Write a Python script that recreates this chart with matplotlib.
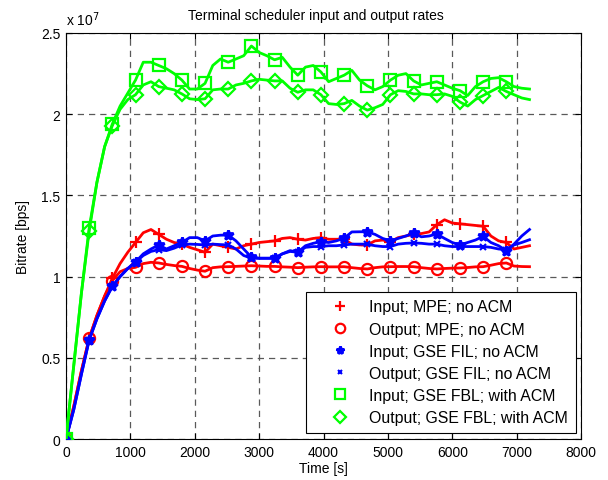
import numpy as np
import matplotlib
matplotlib.use("Agg")
import matplotlib.pyplot as plt
from matplotlib.lines import Line2D
from matplotlib.ticker import FormatStrFormatter

plt.rcParams['font.family'] = ['Liberation Sans', 'DejaVu Sans']

# time samples [s]
time_s = [0, 120, 240, 360, 480, 600, 720, 840, 960, 1080, 1200, 1320, 1440, 1560, 1680,
          1800, 1920, 2040, 2160, 2280, 2400, 2520, 2640, 2760, 2880, 3000, 3120, 3240,
          3360, 3480, 3600, 3720, 3840, 3960, 4080, 4200, 4320, 4440, 4560, 4680, 4800,
          4920, 5040, 5160, 5280, 5400, 5520, 5640, 5760, 5880, 6000, 6120, 6240, 6360,
          6480, 6600, 6720, 6840, 6960, 7080, 7200]

# bitrates in units of 1e7 bps
in_mpe = [0, 0.2, 0.42, 0.62, 0.76, 0.88, 0.99, 1.08, 1.15, 1.21, 1.27, 1.29, 1.26, 1.23, 1.21,
          1.20, 1.18, 1.165, 1.15, 1.20, 1.19, 1.18, 1.17, 1.19, 1.20, 1.21, 1.215, 1.22,
          1.235, 1.24, 1.23, 1.225, 1.235, 1.24, 1.23, 1.23, 1.23, 1.20, 1.195, 1.195, 1.22,
          1.225, 1.215, 1.24, 1.25, 1.26, 1.265, 1.275, 1.32, 1.35, 1.33, 1.325, 1.32, 1.315,
          1.31, 1.25, 1.22, 1.21, 1.17, 1.18, 1.19]
out_mpe = [0, 0.2, 0.42, 0.62, 0.76, 0.88, 0.975, 1.03, 1.05, 1.057, 1.08, 1.088, 1.084, 1.075, 1.068,
           1.063, 1.05, 1.04, 1.033, 1.055, 1.06, 1.061, 1.063, 1.065, 1.067, 1.065, 1.063, 1.063,
           1.06, 1.058, 1.055, 1.058, 1.06, 1.061, 1.06, 1.06, 1.061, 1.055, 1.05, 1.047, 1.055,
           1.06, 1.061, 1.062, 1.062, 1.061, 1.055, 1.05, 1.047, 1.05, 1.052, 1.053, 1.056, 1.06,
           1.061, 1.07, 1.08, 1.084, 1.065, 1.062, 1.061]
in_fil = [0, 0.18, 0.40, 0.61, 0.74, 0.85, 0.94, 1.00, 1.05, 1.09, 1.14, 1.17, 1.195, 1.17, 1.19,
          1.21, 1.24, 1.24, 1.22, 1.25, 1.255, 1.256, 1.22, 1.17, 1.12, 1.113, 1.113, 1.113,
          1.14, 1.16, 1.15, 1.19, 1.205, 1.215, 1.21, 1.22, 1.236, 1.275, 1.276, 1.276, 1.26,
          1.235, 1.22, 1.235, 1.25, 1.268, 1.245, 1.25, 1.262, 1.235, 1.21, 1.195, 1.21, 1.225,
          1.248, 1.21, 1.19, 1.16, 1.20, 1.25, 1.29]
out_fil = [0, 0.18, 0.40, 0.61, 0.74, 0.85, 0.94, 1.00, 1.05, 1.088, 1.13, 1.155, 1.166, 1.16, 1.175,
           1.195, 1.20, 1.198, 1.195, 1.20, 1.197, 1.195, 1.17, 1.13, 1.113, 1.113, 1.113, 1.113,
           1.14, 1.155, 1.15, 1.18, 1.185, 1.185, 1.19, 1.19, 1.195, 1.20, 1.20, 1.20, 1.19,
           1.185, 1.185, 1.20, 1.205, 1.207, 1.205, 1.20, 1.20, 1.19, 1.185, 1.185, 1.185, 1.185,
           1.185, 1.18, 1.17, 1.166, 1.195, 1.21, 1.227]
in_fbl = [0, 0.45, 0.9, 1.30, 1.58, 1.80, 1.94, 2.05, 2.13, 2.21, 2.32, 2.32, 2.30, 2.28, 2.25,
          2.21, 2.155, 2.155, 2.19, 2.30, 2.34, 2.32, 2.34, 2.36, 2.42, 2.38, 2.36, 2.335,
          2.35, 2.29, 2.24, 2.29, 2.30, 2.26, 2.20, 2.22, 2.24, 2.27, 2.21, 2.175, 2.15,
          2.17, 2.21, 2.24, 2.25, 2.205, 2.18, 2.19, 2.20, 2.18, 2.16, 2.145, 2.115, 2.17,
          2.20, 2.22, 2.225, 2.20, 2.17, 2.16, 2.155]
out_fbl = [0, 0.45, 0.9, 1.28, 1.58, 1.80, 1.93, 2.03, 2.09, 2.12, 2.18, 2.20, 2.17, 2.16, 2.15,
           2.125, 2.095, 2.09, 2.095, 2.15, 2.155, 2.155, 2.18, 2.19, 2.205, 2.215, 2.21, 2.205,
           2.205, 2.16, 2.135, 2.15, 2.15, 2.12, 2.065, 2.06, 2.065, 2.085, 2.05, 2.025, 2.04,
           2.06, 2.12, 2.145, 2.14, 2.125, 2.125, 2.12, 2.12, 2.125, 2.11, 2.075, 2.05, 2.09,
           2.115, 2.14, 2.165, 2.14, 2.12, 2.10, 2.09]

labels = ["Input; MPE; no ACM", "Output; MPE; no ACM", "Input; GSE FIL; no ACM",
          "Output; GSE FIL; no ACM", "Input; GSE FBL; with ACM", "Output; GSE FBL; with ACM"]

RED, BLUE, GREEN = '#ff0000', '#0000ff', '#00ff00'
styles = [
    (in_mpe, RED, '+', 8, 1.6, 'none'),
    (out_mpe, RED, 'o', 8, 1.6, 'none'),
    (in_fil, BLUE, '*', 7, 2.0, BLUE),
    (out_fil, BLUE, 'x', 4, 1.5, BLUE),
    (in_fbl, GREEN, 's', 9, 1.6, 'none'),
    (out_fbl, GREEN, 'D', 7, 1.6, 'none'),
]

fig = plt.figure(figsize=(6.08, 4.81), dpi=100)
fig.subplots_adjust(left=66/608, right=581/608, bottom=1-440/481, top=1-34/481)
ax = fig.add_subplot(111)

t = np.array(time_s)
handles = []
for (vals, col, mk, ms, mew, mfc), lab in zip(styles, labels):
    ax.plot(t, vals, color=col, lw=2.0, marker=mk, ms=ms, mew=mew, mfc=mfc,
            markevery=slice(0, 60, 3), zorder=3)
    lms = ms * 0.85
    handles.append(Line2D([], [], color=col, linestyle='None', marker=mk, ms=lms,
                          mew=mew, mfc=mfc, label=lab))

ax.set_xlim(0, 8000)
ax.set_ylim(0, 2.5)
ax.set_xticks(np.arange(0, 8001, 1000))
ax.set_yticks([0, 0.5, 1, 1.5, 2, 2.5])
ax.yaxis.set_major_formatter(FormatStrFormatter('%g'))
ax.tick_params(direction='in', top=True, right=True, length=4, labelsize=10, width=0.8, pad=4)
ax.grid(True, color='0.35', linestyle=(0, (5, 4)), linewidth=0.9)
ax.set_axisbelow(True)
for s in ax.spines.values():
    s.set_linewidth(0.8)

ax.set_title("Terminal scheduler input and output rates", fontsize=10, pad=10, x=0.485)
ax.set_xlabel("Time [s]", fontsize=10, labelpad=2)
ax.set_ylabel("Bitrate [bps]", fontsize=10, labelpad=8)
ax.text(0.0, 1.012, r"x 10$^{7}$", transform=ax.transAxes, fontsize=10, ha='left', va='bottom')

leg = ax.legend(handles=handles, loc='lower right', fontsize=11.4, frameon=True, fancybox=False,
                edgecolor='black', framealpha=1, borderpad=0.5, labelspacing=0.45,
                handletextpad=0.2, handlelength=3.3, borderaxespad=0,
                bbox_to_anchor=(0.9905, 0.0148))
leg.get_frame().set_linewidth(0.8)

fig.savefig("out.png", dpi=100)
